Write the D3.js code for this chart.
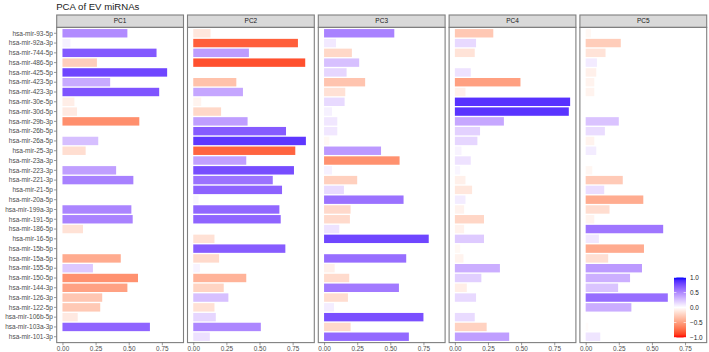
<!DOCTYPE html>
<html>
<head>
<meta charset="utf-8">
<script src="https://cdn.jsdelivr.net/npm/d3@7"></script>
<style>
  body { margin: 0; background: #fff; }
  text { font-family: "Liberation Sans", Arial, sans-serif; }
</style>
</head>
<body>
<div id="chart"></div>
<script>
// miRNAs, top to bottom
const mirnas = [
    'hsa-mir-93-5p', 'hsa-mir-92a-3p', 'hsa-mir-744-5p', 'hsa-mir-486-5p',
    'hsa-mir-425-5p', 'hsa-mir-423-5p', 'hsa-mir-423-3p', 'hsa-mir-30e-5p',
    'hsa-mir-30d-5p', 'hsa-mir-29b-3p', 'hsa-mir-26b-5p', 'hsa-mir-26a-5p',
    'hsa-mir-25-3p', 'hsa-mir-23a-3p', 'hsa-mir-223-3p', 'hsa-mir-221-3p',
    'hsa-mir-21-5p', 'hsa-mir-20a-5p', 'hsa-mir-199a-3p', 'hsa-mir-191-5p',
    'hsa-mir-186-5p', 'hsa-mir-16-5p', 'hsa-mir-15b-5p', 'hsa-mir-15a-5p',
    'hsa-mir-155-5p', 'hsa-mir-150-5p', 'hsa-mir-144-3p', 'hsa-mir-126-3p',
    'hsa-mir-122-5p', 'hsa-mir-106b-5p', 'hsa-mir-103a-3p', 'hsa-mir-101-3p'
];

const components = ['PC1', 'PC2', 'PC3', 'PC4', 'PC5'];

// signed loadings, same order as mirnas
const pc1 = [0.49, 0.06, 0.71, -0.26, 0.79, 0.36, 0.73, -0.09, -0.11, -0.58,
    0, 0.27, -0.175, 0, 0.405, 0.535, 0, 0, 0.52, 0.53,
    -0.155, 0, 0, -0.44, 0.23, -0.57, -0.49, -0.30, -0.285, -0.115,
    0.66, 0];
const pc2 = [-0.13, -0.79, 0.42, -0.845, 0, -0.325, 0.375, -0.06, -0.21, 0.41,
    0.70, 0.85, -0.77, 0.40, 0.76, 0.60, 0.67, 0.04, 0.65, 0.66,
    0, -0.16, 0.695, -0.195, 0.05, -0.40, -0.23, 0.265, -0.16, 0.17,
    0.51, 0.125];
const pc3 = [0.53, 0.09, -0.21, 0.265, 0.17, -0.31, -0.16, 0.155, 0.06, 0.10,
    0.10, -0.04, 0.43, -0.57, 0.06, -0.25, 0.15, 0.60, -0.20, -0.195,
    0.115, 0.79, 0, 0.62, -0.08, -0.19, 0.565, -0.18, 0.075, 0.75,
    -0.20, 0.64];
const pc4 = [-0.29, 0.16, -0.15, 0, 0.12, -0.495, -0.08, 0.87, 0.86, 0.37,
    0.19, 0.17, 0.05, 0.12, 0.04, -0.08, -0.13, 0.08, -0.07, -0.22,
    -0.07, 0.22, -0.04, -0.065, 0.34, 0.20, -0.09, 0.16, 0, 0.15,
    -0.24, 0.41];
const pc5 = [-0.04, -0.265, -0.15, 0.085, -0.08, -0.065, -0.065, 0, 0, 0.25,
    0.145, -0.065, 0.08, 0, -0.05, -0.28, 0.14, -0.435, -0.18, -0.065,
    0.585, 0.10, -0.44, -0.17, 0.425, 0.335, 0.245, 0.62, 0.345, 0,
    -0.02, 0.11];

const xTicks = [0, 0.25, 0.5, 0.75];
const legendTicks = [1.0, 0.5, 0.0, -0.5, -1.0];

const loadings = [pc1, pc2, pc3, pc4, pc5];

const width = 709;
const height = 352;
const margin = { top: 27.4, right: 2.3, bottom: 9.4, left: 56.7 };
const gap = 4;
const stripH = 12.4;
const panelW = (width - margin.left - margin.right - gap * 4) / 5;

const svg = d3.select("#chart")
    .append("svg")
    .attr("width", width)
    .attr("height", height);

// shared scales (ggplot style expansion)
const maxAbs = d3.max(loadings, arr => d3.max(arr, v => Math.abs(v)));
const xScale = d3.scaleLinear()
    .domain([-0.05 * maxAbs, 1.05 * maxAbs])
    .range([0, panelW]);

const yScale = d3.scalePoint()
    .domain(mirnas)
    .range([margin.top, height - margin.bottom])
    .padding(0.6);

const barH = yScale.step() * 0.86;

const color = d3.scaleLinear()
    .domain([-1, 0, 1])
    .range(["red", "white", "blue"])
    .interpolate(d3.interpolateLab);

// Title
svg.append("text")
    .attr("x", margin.left - 0.5)
    .attr("y", 9.5)
    .style("font-size", "9.6px")
    .style("fill", "#1a1a1a")
    .text("PCA of EV miRNAs");

// Y axis labels + ticks
const yAxis = svg.append("g");
mirnas.forEach(m => {
    yAxis.append("text")
        .attr("x", margin.left - 3.8)
        .attr("y", yScale(m))
        .attr("dy", "0.35em")
        .attr("text-anchor", "end")
        .style("font-size", "6.5px")
        .style("fill", "#4d4d4d")
        .text(m);
    yAxis.append("line")
        .attr("x1", margin.left - 2.7).attr("x2", margin.left)
        .attr("y1", yScale(m)).attr("y2", yScale(m))
        .attr("stroke", "#555").attr("stroke-width", 0.6);
});

// Panels
components.forEach((pc, i) => {
    const x0 = margin.left + i * (panelW + gap);
    const g = svg.append("g").attr("transform", `translate(${x0},0)`);
    const vals = loadings[i];

    // strip
    g.append("rect")
        .attr("x", 0).attr("y", margin.top - stripH)
        .attr("width", panelW).attr("height", stripH)
        .attr("fill", "#d9d9d9")
        .attr("stroke", "#7f7f7f").attr("stroke-width", 1.1);
    g.append("text")
        .attr("x", panelW / 2)
        .attr("y", margin.top - stripH / 2)
        .attr("dy", "0.35em")
        .attr("text-anchor", "middle")
        .style("font-size", "6.5px")
        .style("fill", "#1a1a1a")
        .text(pc);

    // bars
    g.selectAll(".bar")
        .data(mirnas.map((m, j) => ({ name: m, value: vals[j] })))
        .enter()
        .append("rect")
        .attr("class", "bar")
        .attr("x", xScale(0))
        .attr("y", d => yScale(d.name) - barH / 2)
        .attr("width", d => xScale(Math.abs(d.value)) - xScale(0))
        .attr("height", barH)
        .attr("fill", d => color(d.value));

    // border
    g.append("rect")
        .attr("x", 0).attr("y", margin.top)
        .attr("width", panelW).attr("height", height - margin.bottom - margin.top)
        .attr("fill", "none")
        .attr("stroke", "#7f7f7f").attr("stroke-width", 1.1);

    // x axis
    const xa = g.append("g")
        .attr("transform", `translate(0,${height - margin.bottom})`)
        .call(d3.axisBottom(xScale).tickValues(xTicks).tickFormat(d3.format(".2f"))
            .tickSize(2.7).tickPadding(1.2));
    xa.select(".domain").remove();
    xa.selectAll("line").attr("stroke", "#555").attr("stroke-width", 0.6);
    xa.selectAll("text")
        .style("font-size", "6.4px")
        .style("fill", "#4d4d4d")
        .style("font-family", "Liberation Sans, Arial, sans-serif");
});

// Legend (inside last panel)
const legX = 674, legY = 277.5, legW = 12, legH = 60;
const defs = svg.append("defs");
const grad = defs.append("linearGradient")
    .attr("id", "legGrad")
    .attr("x1", 0).attr("y1", 1).attr("x2", 0).attr("y2", 0);
d3.range(0, 21).forEach(k => {
    const v = -1 + k * 0.1;
    grad.append("stop")
        .attr("offset", `${k * 5}%`)
        .attr("stop-color", color(v));
});

const legScale = d3.scaleLinear().domain([-1, 1]).range([legY + legH, legY]);

svg.append("rect")
    .attr("x", legX).attr("y", legY)
    .attr("width", legW).attr("height", legH)
    .attr("fill", "url(#legGrad)");

legendTicks.forEach(t => {
    svg.append("line")
        .attr("x1", legX).attr("x2", legX + 2.4)
        .attr("y1", legScale(t)).attr("y2", legScale(t))
        .attr("stroke", "white").attr("stroke-width", 0.6);
    svg.append("line")
        .attr("x1", legX + legW - 2.4).attr("x2", legX + legW)
        .attr("y1", legScale(t)).attr("y2", legScale(t))
        .attr("stroke", "white").attr("stroke-width", 0.6);
    svg.append("text")
        .attr("x", legX + legW + 4)
        .attr("y", legScale(t))
        .attr("dy", "0.35em")
        .style("font-size", "6.4px")
        .style("fill", "#1a1a1a")
        .text(d3.format(".1f")(t).replace("-", "\u2212"));
});
</script>
</body>
</html>
